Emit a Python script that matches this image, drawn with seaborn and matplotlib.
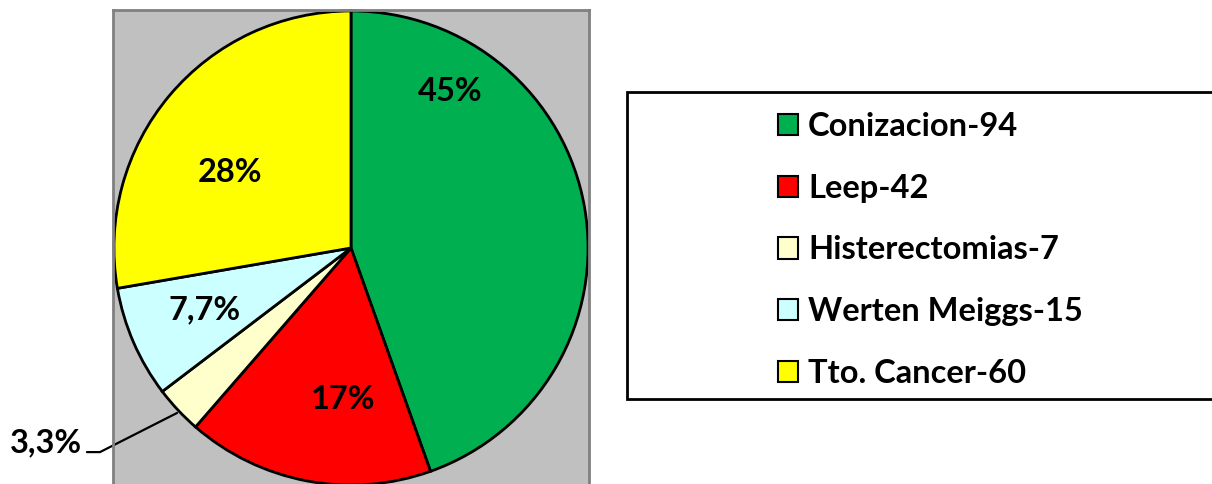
import numpy as np
import seaborn as sns
import matplotlib.pyplot as plt
from matplotlib.patches import Rectangle

# Data
categories = ['Conizacion-94', 'Leep-42', 'Histerectomias-7', 'Werten Meiggs-15', 'Tto. Cancer-60']
pct_values = [45, 17, 3.3, 7.7, 28]
pct_labels = ['45%', '17%', '3,3%', '7,7%', '28%']
colors = ['#00B050', '#FF0000', '#FFFFCC', '#CCFFFF', '#FFFF00']

# label positions (pie radius units)
label_pos = [(0.418, 0.66), (-0.034, -0.64), (-1.288, -0.82), (-0.616, -0.262), (-0.51, 0.32)]

sns.set_style('white')
plt.rcParams['font.family'] = ['Lato', 'DejaVu Sans']
plt.rcParams['font.weight'] = 'bold'
plt.rcParams['text.color'] = 'black'

fig = plt.figure(figsize=(12.12, 4.84), dpi=100)
ax = fig.add_axes([113 / 1212, 1 - 486 / 484, 476 / 1212, 476 / 484])
ax.set_facecolor('#C0C0C0')

wedges, _ = ax.pie(pct_values, colors=colors, startangle=90, counterclock=False,
                   radius=1.0, wedgeprops=dict(edgecolor='black', linewidth=2))
ax.set_xlim(-1.004, 1.004)
ax.set_ylim(-1.004, 1.004)
ax.set_aspect('equal')
ax.set_xticks([])
ax.set_yticks([])
ax.set_frame_on(True)
for s in ax.spines.values():
    s.set_visible(True)
    s.set_color('#808080')
    s.set_linewidth(2)

for txt, (x, y) in zip(pct_labels, label_pos):
    ax.text(x, y, txt, ha='center', va='center', fontsize=23.5, fontweight='bold',
            color='black', clip_on=False)

# leader line for the small slice
ax.plot([-1.114, -1.059, -0.734], [-0.861, -0.861, -0.696], color='black', lw=1.6, clip_on=False)

# legend frame
fig.patches.append(Rectangle((627 / 1212, 1 - 399 / 484), 700 / 1212, 307 / 484,
                             transform=fig.transFigure, facecolor='white',
                             edgecolor='black', linewidth=2, zorder=0))
leg = fig.legend(wedges, categories, loc='center left', bbox_to_anchor=(778 / 1212, 1 - 250 / 484),
                 frameon=False, fontsize=23.5, handlelength=0.62, handleheight=0.62,
                 handletextpad=0.3, labelspacing=1.0, borderpad=0, borderaxespad=0)
for t in leg.get_texts():
    t.set_color('black')
for h in leg.legend_handles:
    h.set_linewidth(1.5)
    h.set_edgecolor('black')

fig.savefig('out.png', dpi=100)
